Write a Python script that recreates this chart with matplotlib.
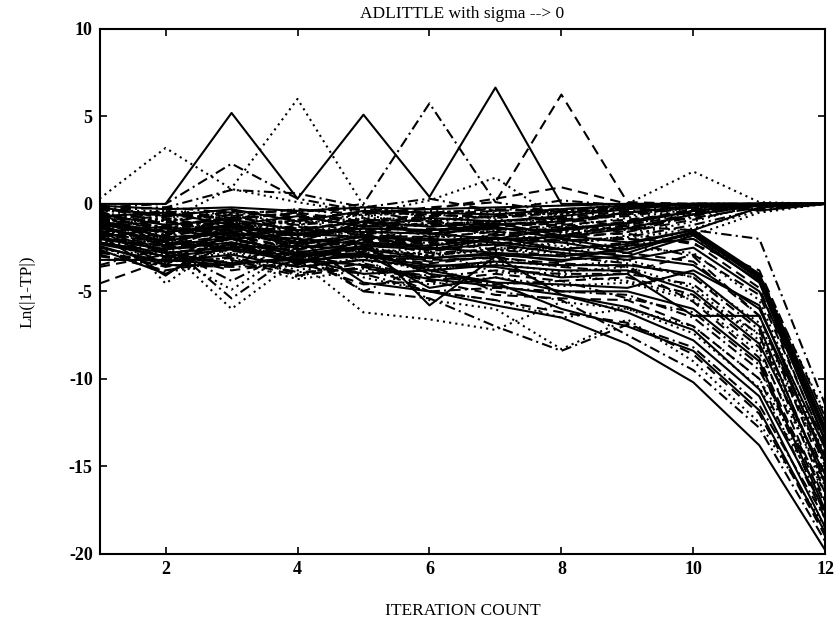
"""
Convergence of Ln(|1-TP|) against iteration count for ADLITTLE (sigma --> 0).
"""

import matplotlib

matplotlib.use("Agg")
import matplotlib.pyplot as plt
import numpy as np

iterations = np.arange(1, 13)

# Lines that spike above zero before settling on 0.
spike_lines = [
    [0, 0, 5.2, 0.3, 5.1, 0.4, 6.65, 0, 0, 0, -0.38, 0],
    [0.3, 3.2, 0.85, 0.1, -0.5, -0.6, -0.8, -0.5, -0.3, 0, 0, 0],
    [-0.2, 0, 2.3, 0.3, -0.4, -1.0, -0.7, -0.4, -0.2, 0, 0, 0],
    [-0.5, -1.0, 0.9, 6.0, -0.1, -0.8, -1.1, -0.6, -0.2, 0, 0, 0],
    [-0.3, -0.6, -0.8, -0.5, 0, 5.75, 0.1, -0.5, -0.3, 0, 0, 0],
    [-1.0, -0.5, -0.7, -0.3, -0.6, -0.2, 0.1, 6.25, 0.1, 0, 0, 0],
    [-0.8, -1.5, -1.0, -1.6, -1.2, -0.9, -0.7, -0.4, 0, 1.85, 0.1, 0],
    [-1.2, -0.8, -1.4, -1.0, -0.6, 0.2, 1.5, -1.0, -0.5, -0.2, 0, 0],
    [-0.6, -1.1, -0.4, -0.9, -0.5, -0.3, 0.3, 0.95, 0, 0, 0, 0],
    [-0.4, -0.2, 0.8, 0.6, -0.2, 0.3, -0.4, 0.2, -0.1, 0, 0, 0],
]
spike_styles = ["-", ":", "-.", ":", "-.", "--", ":", ":", "--", "-."]

# Lines that stay in the band just below zero and converge to 0.
band_lines = [
    [-0.1, -0.3, -0.2, -0.4, -0.2, -0.3, -0.2, -0.1, 0, 0, 0, 0],
    [-0.3, -0.6, -0.4, -0.8, -0.5, -0.6, -0.4, -0.3, -0.1, 0, 0, 0],
    [-0.6, -0.9, -0.7, -1.1, -0.8, -0.9, -0.7, -0.5, -0.2, 0, 0, 0],
    [-0.9, -1.3, -1.0, -1.4, -1.1, -1.2, -1.0, -0.8, -0.4, -0.1, 0, 0],
    [-1.2, -1.6, -1.3, -1.7, -1.4, -1.5, -1.2, -1.0, -0.5, -0.1, 0, 0],
    [-0.4, -1.8, -0.9, -2.0, -1.2, -1.6, -1.3, -1.1, -0.6, -0.2, 0, 0],
    [-1.5, -2.2, -1.4, -2.4, -1.6, -2.0, -1.5, -1.3, -0.8, -0.3, 0, 0],
    [-0.2, -0.8, -1.5, -0.9, -1.7, -1.0, -1.4, -1.6, -1.0, -0.4, 0, 0],
    [-0.7, -0.5, -1.2, -0.7, -1.3, -0.8, -1.0, -0.7, -0.3, 0, 0, 0],
    [-1.1, -2.0, -1.7, -2.6, -2.0, -2.2, -1.8, -1.5, -1.0, -0.3, 0, 0],
    [-1.8, -1.2, -2.3, -1.5, -2.5, -1.8, -2.1, -1.7, -1.2, -0.5, 0, 0],
    [-0.5, -1.4, -0.6, -1.6, -0.8, -1.9, -1.1, -1.2, -1.5, -0.6, 0, 0],
    [-2.0, -2.6, -2.0, -2.8, -2.2, -2.4, -2.0, -1.9, -1.4, -0.6, -0.1, 0],
    [-0.8, -0.4, -0.9, -0.5, -1.0, -0.6, -0.8, -0.5, -0.2, 0, 0, 0],
    [-0.3, -1.0, -0.5, -1.2, -0.6, -1.3, -0.9, -1.0, -0.6, -0.2, 0, 0],
    [-1.4, -0.9, -1.9, -1.2, -2.1, -1.4, -1.6, -1.8, -1.3, -0.8, -0.2, 0],
    [-0.5, -2.4, -1.1, -2.2, -1.0, -1.7, -2.0, -1.4, -1.1, -0.4, 0, 0],
    [-1.7, -2.8, -2.4, -3.0, -2.6, -2.0, -2.4, -2.0, -1.6, -0.9, -0.1, 0],
    [-2.2, -1.7, -2.9, -2.0, -2.8, -2.5, -2.2, -2.4, -1.8, -1.0, 0, 0],
    [-1.0, -1.9, -1.2, -1.8, -1.4, -2.4, -1.7, -2.1, -1.9, -1.2, -0.3, 0],
    [-0.2, -0.7, -0.3, -1.0, -0.4, -0.5, -0.6, -0.3, -0.1, 0, 0, 0],
    [-1.3, -1.0, -1.6, -1.3, -1.8, -1.1, -1.5, -1.2, -0.9, -0.5, 0, 0],
    [-0.4, -0.4, -0.6, -0.3, -0.7, -0.4, -0.5, -0.6, -0.2, 0, 0, 0],
    [-1.0, -0.7, -0.8, -1.2, -0.9, -1.0, -1.2, -0.9, -0.7, -0.2, 0, 0],
    [-1.6, -1.3, -1.8, -1.5, -1.6, -1.7, -1.4, -1.5, -1.1, -0.4, 0, 0],
    [-0.1, -1.2, -0.8, -0.6, -1.1, -0.7, -0.6, -0.9, -0.5, -0.1, 0, 0],
    [-2.4, -2.0, -2.6, -2.2, -2.4, -2.2, -2.6, -2.2, -2.0, -1.4, -0.4, 0],
    [-0.6, -1.6, -1.0, -1.9, -1.5, -1.1, -1.8, -1.3, -1.6, -0.7, 0, 0],
    [-1.9, -1.4, -2.0, -1.7, -1.9, -2.1, -1.9, -2.6, -2.3, -1.5, -0.2, 0],
    [-0.9, -2.5, -1.3, -2.3, -1.7, -2.7, -2.3, -1.8, -1.2, -0.6, 0, 0],
    [-2.6, -3.0, -2.2, -3.2, -2.5, -2.9, -2.6, -2.8, -2.4, -1.8, -0.5, 0],
    [-0.3, -0.2, -0.5, -0.4, -0.3, -0.5, -0.3, -0.4, -0.1, 0, 0, 0],
]
band_styles = ["-", "--", ":", "-."] * 8

# Lines that drop steeply over the last iterations.
falling_lines = [
    [-0.6, -1.2, -0.9, -1.5, -1.0, -1.3, -1.1, -1.8, -2.2, -1.5, -4.0, -12.5],
    [-1.0, -1.6, -1.2, -1.8, -1.4, -1.5, -1.3, -2.0, -2.6, -1.6, -4.2, -13.0],
    [-0.8, -1.4, -1.1, -1.7, -1.3, -1.2, -1.0, -0.8, -1.3, -1.5, -2.0, -11.5],
    [-1.4, -2.1, -1.6, -2.3, -1.9, -2.0, -2.2, -2.6, -3.0, -1.8, -4.5, -13.5],
    [-1.1, -1.8, -1.3, -1.9, -1.6, -1.7, -1.4, -1.6, -1.4, -2.0, -4.0, -12.0],
    [-1.6, -2.3, -1.8, -2.6, -2.1, -2.3, -2.0, -2.1, -2.0, -2.2, -4.8, -14.0],
    [-1.9, -2.6, -2.2, -2.9, -2.4, -2.6, -2.3, -2.8, -3.2, -2.5, -5.0, -13.0],
    [-2.1, -2.9, -2.3, -3.1, -2.6, -2.9, -2.7, -2.5, -2.5, -2.8, -5.5, -14.5],
    [-1.3, -2.7, -2.0, -3.0, -2.5, -3.0, -2.5, -2.6, -2.2, -3.0, -6.4, -15.0],
    [-2.3, -3.0, -2.6, -3.3, -2.9, -3.1, -2.9, -3.2, -3.0, -3.5, -6.0, -14.0],
    [-1.7, -3.1, -2.3, -3.4, -2.7, -3.3, -3.0, -2.9, -2.8, -3.3, -6.4, -15.5],
    [-2.5, -3.3, -2.9, -3.6, -3.2, -3.6, -3.3, -3.5, -3.5, -4.0, -7.0, -16.0],
    [-2.0, -3.4, -2.6, -3.8, -3.0, -3.9, -3.2, -3.6, -3.2, -4.2, -6.8, -15.0],
    [-2.7, -3.6, -3.0, -4.0, -3.4, -4.2, -3.8, -4.0, -4.0, -4.6, -7.5, -16.5],
    [-1.2, -2.4, -1.9, -3.0, -2.8, -3.8, -3.5, -3.8, -3.8, -5.0, -8.0, -15.5],
    [-2.9, -3.8, -3.2, -4.1, -3.6, -4.4, -4.0, -4.4, -4.2, -5.2, -8.2, -17.0],
    [-2.4, -3.9, -3.3, -4.3, -3.8, -4.6, -4.2, -4.7, -4.5, -5.5, -8.5, -16.0],
    [-1.5, -2.8, -2.5, -3.2, -3.0, -3.5, -3.6, -4.2, -4.0, -6.4, -6.4, -14.5],
    [-2.6, -4.0, -2.2, -3.4, -2.8, -4.8, -4.2, -5.0, -5.0, -6.0, -9.0, -17.5],
    [-3.0, -3.5, -3.6, -3.5, -4.0, -5.0, -4.8, -5.0, -5.2, -6.5, -9.5, -16.5],
    [-3.6, -2.9, -3.8, -3.3, -4.6, -4.4, -5.2, -5.4, -5.5, -7.0, -10.0, -18.0],
    [-1.2, -2.5, -6.0, -3.2, -6.2, -6.6, -7.2, -5.6, -6.0, -7.4, -10.5, -17.0],
    [-1.8, -4.1, -1.5, -3.5, -2.0, -5.8, -3.0, -5.2, -6.2, -7.8, -11.0, -18.5],
    [-1.0, -2.2, -5.4, -2.8, -5.0, -5.4, -7.0, -8.4, -6.9, -8.2, -11.5, -18.0],
    [-4.55, -3.2, -2.5, -3.0, -3.5, -5.0, -5.5, -6.2, -6.8, -8.6, -12.0, -19.0],
    [-0.5, -4.55, -2.0, -4.2, -3.0, -5.5, -6.0, -8.3, -6.6, -9.0, -12.5, -18.5],
    [-3.5, -2.5, -4.4, -2.5, -5.0, -3.5, -5.0, -5.5, -7.5, -9.5, -12.8, -19.3],
    [-3.2, -3.2, -3.5, -2.0, -4.5, -5.0, -5.8, -6.5, -8.0, -10.2, -13.8, -19.8],
    [-1.5, -3.5, -1.2, -2.6, -1.8, -2.6, -2.0, -2.2, -2.8, -1.6, -4.1, -12.8],
    [-0.9, -1.7, -1.4, -2.2, -1.8, -1.9, -1.6, -1.8, -1.7, -2.3, -3.8, -12.2],
    [-2.2, -3.0, -3.4, -3.1, -4.0, -3.8, -4.5, -4.6, -4.8, -3.8, -5.8, -14.8],
    [-0.8, -2.8, -4.9, -2.5, -4.2, -5.0, -5.5, -6.5, -6.0, -7.0, -10.0, -16.5],
    [-2.4, -3.5, -3.5, -3.0, -2.5, -4.0, -4.5, -6.0, -7.0, -8.4, -11.8, -18.8],
    [-0.7, -2.0, -1.5, -2.5, -2.1, -2.8, -2.6, -3.0, -3.4, -4.2, -7.2, -15.8],
    [-1.4, -3.2, -2.8, -3.6, -3.2, -3.7, -3.4, -3.9, -3.6, -4.8, -7.8, -14.2],
    [-2.0, -2.4, -2.7, -2.9, -3.0, -3.2, -3.1, -3.4, -3.6, -5.6, -8.8, -17.2],
    [-1.0, -1.9, -1.7, -2.0, -2.3, -2.5, -2.8, -3.0, -2.6, -1.7, -4.3, -13.2],
    [-1.6, -2.5, -2.0, -2.7, -2.9, -3.4, -3.0, -3.6, -3.9, -2.9, -5.2, -13.8],
    [-0.9, -2.1, -2.4, -2.2, -3.3, -2.7, -3.9, -4.1, -4.4, -5.3, -7.4, -16.2],
    [-2.8, -3.3, -3.1, -3.9, -3.7, -4.1, -4.6, -4.4, -5.4, -6.2, -9.2, -17.8],
    [-1.3, -2.2, -2.5, -2.4, -2.6, -3.1, -2.8, -3.3, -2.4, -2.0, -4.4, -13.6],
    [-2.2, -2.8, -3.4, -3.2, -3.5, -4.3, -4.7, -5.2, -5.9, -7.2, -10.6, -17.6],
]
falling_styles = [
    "-", "-", "-.", "-", ":", "--", "-", ":", "-.", "-", "--", "-",
    ":", "-.", "-", "--", ":", "-", "-", "-.", "--", ":", "-", "-.",
    "--", ":", "-.", "-", "-", "--", "-", ":", "-", "-.", ":", "--",
    "-", "--", ":", "-.", "-", "-",
]

x_ticks = [2, 4, 6, 8, 10, 12]
y_ticks = [-20, -15, -10, -5, 0, 5, 10]

# matlab-ish dash patterns
dash_map = {
    "-": "-",
    "--": (0, (5, 3)),
    ":": (0, (1, 2)),
    "-.": (0, (5, 2, 1, 2)),
}

plt.rcParams["font.family"] = ["Liberation Serif", "DejaVu Serif"]
plt.rcParams["axes.unicode_minus"] = False

fig = plt.figure(figsize=(8.37, 6.30), dpi=100)
ax = fig.add_axes([0.119, 0.121, 0.867, 0.833])

for lines, styles in [
    (band_lines, band_styles),
    (falling_lines, falling_styles),
    (spike_lines, spike_styles),
]:
    for values, style in zip(lines, styles):
        ax.plot(iterations, values, color="black", linestyle=dash_map[style], lw=1.5)

ax.set_xlim(1, 12)
ax.set_ylim(-20, 10)
ax.set_xticks(x_ticks)
ax.set_yticks(y_ticks)
ax.tick_params(
    direction="in", length=5, width=1.2, top=True, right=True, labelsize=13, pad=5
)
for label in ax.get_xticklabels() + ax.get_yticklabels():
    label.set_fontweight("bold")
for spine in ax.spines.values():
    spine.set_linewidth(1.5)

ax.set_title("ADLITTLE with sigma --> 0", fontsize=12.5, pad=8)
ax.set_xlabel("ITERATION COUNT", fontsize=12.5, labelpad=18)
ax.set_ylabel("Ln(|1-TP|)", fontsize=12.5, labelpad=24)

fig.savefig("out.png", dpi=100)
